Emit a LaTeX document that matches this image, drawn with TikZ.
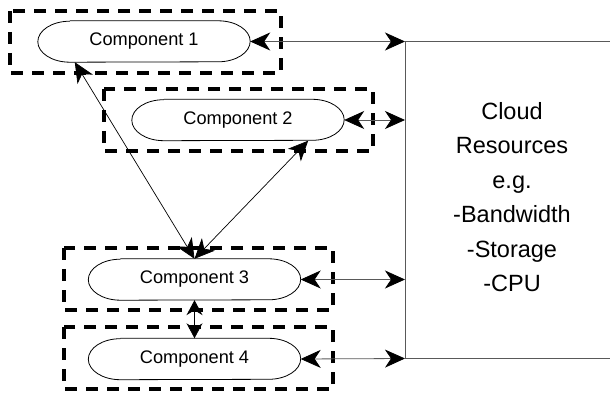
\documentclass[tikz,border=0pt]{standalone}
\usepackage{fontspec}
\setmainfont{Liberation Sans}
\usetikzlibrary{arrows.meta}
\definecolor{edgegray}{rgb}{0.35,0.35,0.35}
\tikzset{
  comp/.style={minimum width=212pt, minimum height=41pt, inner sep=0pt,
    font=\fontsize{18.2}{20}\selectfont},
  outline/.style={draw=black, line width=0.8pt},
  groupbox/.style={draw=black, line width=3.6pt, dash pattern=on 12pt off 9pt},
  link/.style={draw=black, line width=0.7pt, {Stealth[length=20pt,width=18pt,inset=6pt]}-{Stealth[length=20pt,width=18pt,inset=6pt]}},
  shortlink/.style={draw=black, line width=0.7pt, {Stealth[length=15pt,width=16pt,inset=5pt]}-{Stealth[length=15pt,width=16pt,inset=5pt]}},
  feed/.style={draw=edgegray, line width=0.8pt, {Stealth[length=20pt,width=18pt,inset=6pt,color=black]}-{Stealth[length=20pt,width=18pt,inset=6pt,color=black]}},
  cloudtext/.style={align=center, font=\fontsize{23.5}{34.5}\selectfont}
}
\begin{document}
\begin{tikzpicture}[x=1pt,y=-1pt]
\useasboundingbox (0,0) rectangle (610,395);

% dashed grouping frames
\draw[groupbox] (10,11) rectangle (281,73);
\draw[groupbox] (104,89) rectangle (373,151);
\draw[groupbox] (64,248) rectangle (333,310);
\draw[groupbox] (64,327) rectangle (333,389);

% components
\node[comp] (c1) at (144,41.5) {Component 1};
\node[comp] (c2) at (238,120) {Component 2};
\node[comp] (c3) at (194.5,279.5) {Component 3};
\node[comp] (c4) at (194.5,359) {Component 4};

% capsule outlines with elliptical ends
\foreach \n in {c1,c2,c3,c4}
  \draw[outline] ([xshift=32pt]\n.north west) -- ([xshift=-32pt]\n.north east)
    arc[start angle=90, end angle=-90, x radius=32pt, y radius=20.5pt]
    -- ([xshift=32pt]\n.south west)
    arc[start angle=270, end angle=90, x radius=32pt, y radius=20.5pt];

% cloud resources panel (open to the right)
\coordinate (ctop) at (405,41.5);
\coordinate (cbot) at (405,358.5);
\draw[edgegray, line width=0.8pt] (610,41.5) -- (ctop) -- (cbot) -- (610,358.5);
\coordinate (p1) at (405,41.5);
\coordinate (p2) at (405,120);
\coordinate (p3) at (405,279.5);
\coordinate (p4) at (405,358.5);
\node[cloudtext] (cloud) at (512,197) {Cloud\\Resources\\e.g.\\-Bandwidth\\-Storage\\-CPU};

% links to cloud resources
\draw[feed] (c1.east) -- (p1);
\draw[feed] (c2.east) -- (p2);
\draw[feed] (c3.east) -- (p3);
\draw[feed] (c4.east) -- (p4);

% links between components
\draw[link] ([xshift=37pt]c1.south west) -- (c3.north);
\draw[link] ([xshift=-36pt]c2.south east) -- (c3.north);
\draw[shortlink] (c3.south) -- (c4.north);
\end{tikzpicture}
\end{document}
